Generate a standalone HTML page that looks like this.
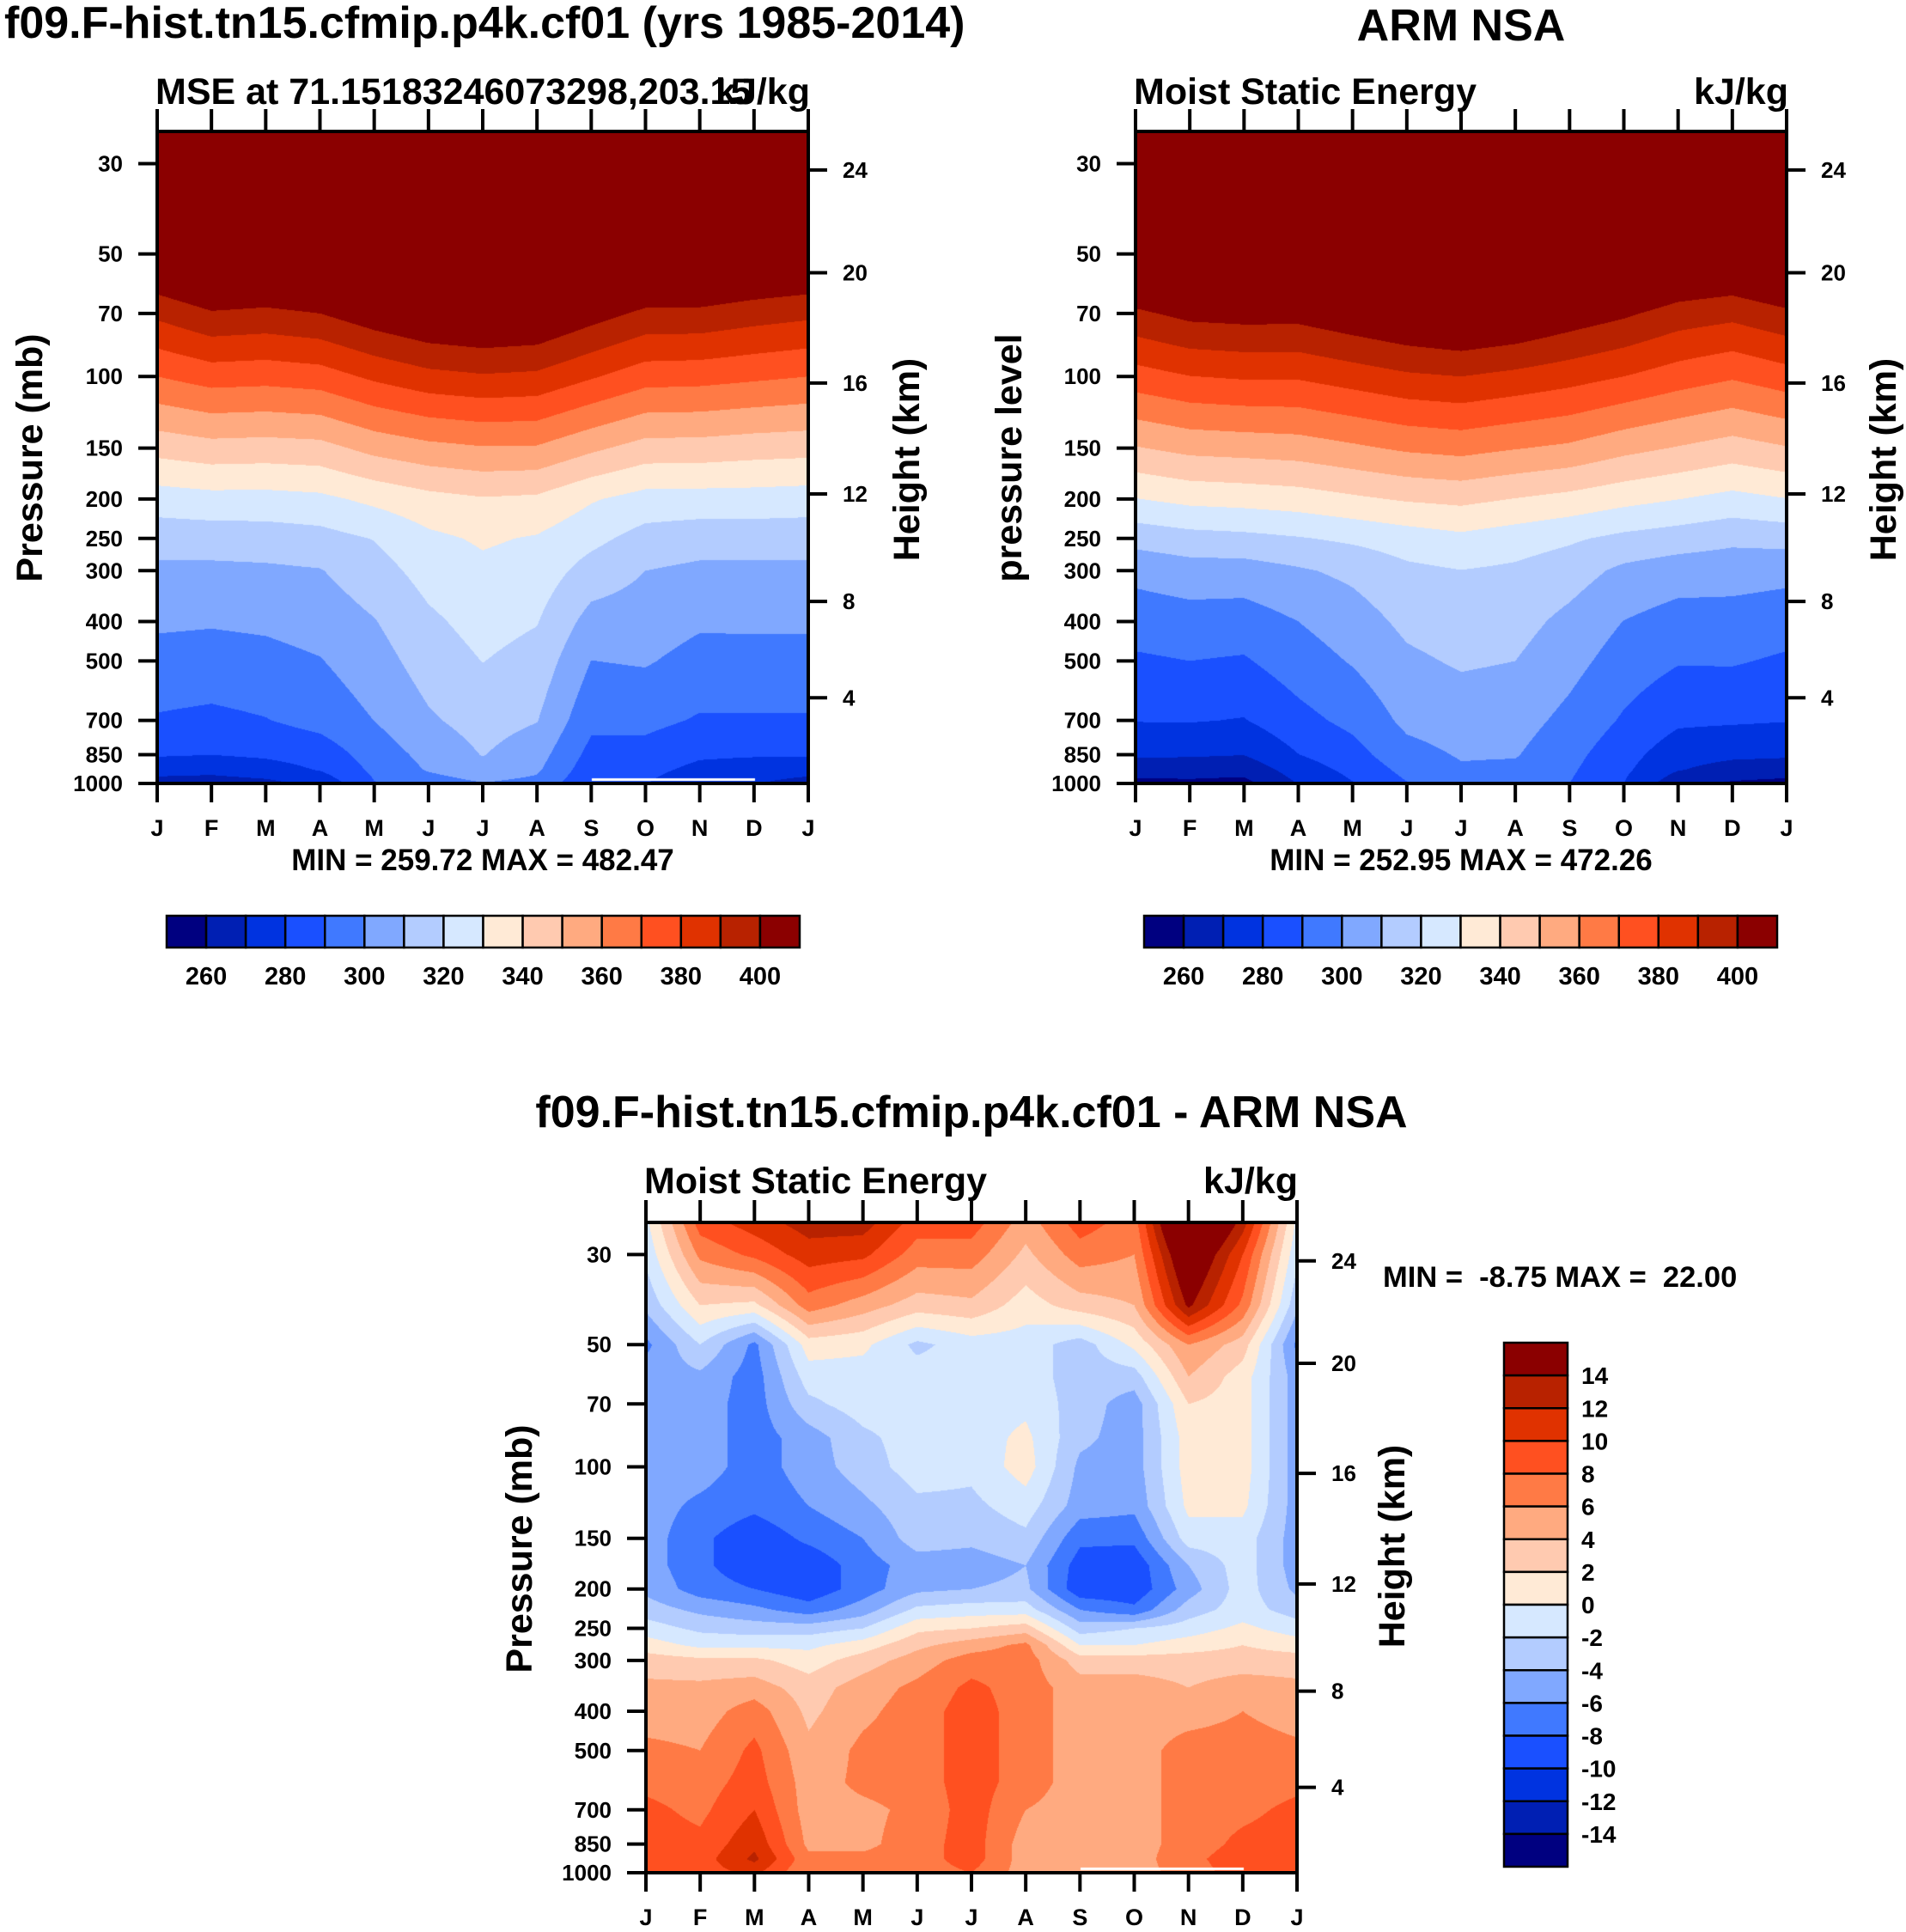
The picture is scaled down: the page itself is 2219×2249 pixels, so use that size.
<!DOCTYPE html>
<html><head><meta charset="utf-8">
<style>
html,body{margin:0;padding:0;background:#fff;}
#root{position:relative;width:2219px;height:2249px;overflow:hidden;background:#fff;}
canvas{position:absolute;}
svg{position:absolute;left:0;top:0;}
text{font-family:"Liberation Sans",Arial,sans-serif;font-weight:bold;fill:#000;}
</style></head>
<body>
<div id="root">
<canvas id="c1"></canvas>
<canvas id="c2"></canvas>
<canvas id="c3"></canvas>
<svg id="svg" width="2219" height="2249">
<text x="5" y="44" font-size="52">f09.F-hist.tn15.cfmip.p4k.cf01 (yrs 1985-2014)</text>
<text x="1701" y="47" font-size="52" text-anchor="middle">ARM NSA</text>
<text x="181" y="121" font-size="43">MSE at 71.15183246073298,203.15</text>
<text x="943" y="121" font-size="43" text-anchor="end">kJ/kg</text>
<text x="1320" y="121" font-size="43">Moist Static Energy</text>
<text x="2082" y="121" font-size="43" text-anchor="end">kJ/kg</text>
<text x="562" y="1013" font-size="35" text-anchor="middle">MIN = 259.72 MAX = 482.47</text>
<text x="1701" y="1013" font-size="35" text-anchor="middle">MIN = 252.95 MAX = 472.26</text>
<text transform="translate(49,533) rotate(-90)" font-size="43" text-anchor="middle">Pressure (mb)</text>
<text transform="translate(1070,535) rotate(-90)" font-size="43" text-anchor="middle">Height (km)</text>
<text transform="translate(1189,533) rotate(-90)" font-size="43" text-anchor="middle">pressure level</text>
<text transform="translate(2207,535) rotate(-90)" font-size="43" text-anchor="middle">Height (km)</text>
<text x="1131" y="1312" font-size="52" text-anchor="middle">f09.F-hist.tn15.cfmip.p4k.cf01 - ARM NSA</text>
<text x="750" y="1389" font-size="43">Moist Static Energy</text>
<text x="1511" y="1389" font-size="43" text-anchor="end">kJ/kg</text>
<text x="1610" y="1498" font-size="34.5" xml:space="preserve">MIN =  -8.75 MAX =  22.00</text>
<text transform="translate(619,1803) rotate(-90)" font-size="43" text-anchor="middle">Pressure (mb)</text>
<text transform="translate(1635,1800) rotate(-90)" font-size="43" text-anchor="middle">Height (km)</text>
</svg>
</div>
<script>
// ---- data ----
const palette = ["#000080","#001fb3","#0033e0","#1a50ff","#4079ff","#80a8ff","#b3ccff","#d6e8ff","#ffead6","#ffcab0","#ffaa80","#ff7a45","#ff5020","#e03200","#b82200","#8b0000"];
const monthLabels = ["J","F","M","A","M","J","J","A","S","O","N","D","J"];
const pressureTicks = [30,50,70,100,150,200,250,300,400,500,700,850,1000];
const heightTicksKm = [24,20,16,12,8,4];
const heightTickPres = [31.1,55.6,103.8,194.4,357,616];
const mseLevelLabels = [260,280,300,320,340,360,380,400];
const diffLevelLabels = [14,12,10,8,6,4,2,0,-2,-4,-6,-8,-10,-12,-14];

const msePressures = [30,50,70,100,150,200,250,300,400,500,700,850,925,1000];
const mseModel = [
[455,416,392.4,370,343.5,325.1,314.1,308,301.5,296.6,289,280.9,274.1,265.7],
[458,422.5,399,374.5,346.3,326.6,314.5,307.9,300.9,295.9,287.7,280.1,273,265.2],
[458,421,397.6,373.7,345.7,326.5,315,308.4,301.8,296.9,289.6,281.6,275.6,267.2],
[458,423,400,375.4,346.6,327.7,316.4,309.5,304,299.5,293.5,284.3,280.7,272.6],
[462,430,406.5,382,353.2,332.4,320.4,315.9,309.5,305.7,300.1,294.3,292,289.5],
[465,435,411.5,387,357.1,336.8,327.8,323.7,318.1,314.5,308.6,303.1,300.9,295.2],
[468,437,413.5,389,359.2,339.2,331.3,327.8,323.6,320.2,314.1,310.4,306.4,299.5],
[467,436,412,387.9,358.9,338.2,329.1,325.7,320.5,316.4,310.4,304.2,301.6,297.2],
[462,428,404.5,381.1,352,331,322.8,315.9,306.2,299.9,292.5,286.8,283.9,281],
[458,421,397.8,374.4,346,326.2,316.1,310,305,300.9,292.8,286.2,283,280.5],
[458,421,397.6,373.8,345.8,325.9,314.3,308,301.4,296.6,289,281.5,277.3,272],
[456,418,394.6,371.9,344.3,325.8,314.3,308,301.6,296.6,289.1,280.9,275.4,270.5],
[455,416,392.4,370,343.5,325.1,314.1,308,301.5,296.6,289,280.9,274.1,265.7]
];
const mseObs = [
[455,421.5,398,375.8,349.3,329.7,313.5,303,294.3,288.6,280.4,271.4,264.8,257],
[458,426.5,403,379.8,352.9,332.8,316.2,305.6,295.8,290,280.6,271.1,264.1,258],
[458,428,404,381.2,353.9,333.8,317.3,305.6,295.2,289,279.5,270.2,263.4,257],
[458,427,403.8,381.2,355,335.3,319.3,308.8,300,295.2,286.8,279.8,274.8,270.5],
[462,432,408,384.8,358.2,338.3,321.8,312.3,305.3,300.8,292.7,286.2,282.7,279.5],
[465,436,412,388.4,361.6,341.1,324.9,317.9,312.3,308.1,302.3,296.7,293,289.5],
[468,438,414.8,390,363.3,342.6,327.6,319.8,315,311.2,304.7,300.8,299,292],
[467,436,412,387.3,360.5,339.7,324.6,318.3,313.6,310,304.1,300.7,298,292],
[462,430,406.5,384,358.1,336.9,321.5,314.5,307.3,303.4,297.2,293.1,291.5,290],
[458,425.5,401.8,380,353,333.2,317.5,307.8,299.8,295.4,288.8,283.8,281.9,280],
[456,418,395.7,375.1,349.3,330.2,315,304.8,295.9,290.7,281.8,274.1,270.6,263.2],
[455,416,393.1,371.2,345.6,326.9,312.3,304.1,296,290.9,281.2,272,266.1,258.6],
[455,421.5,398,375.8,349.3,329.7,313.5,303,294.3,288.6,280.4,271.4,264.8,257]
];
const diffPressures = [25,30,40,50,60,70,85,100,125,150,175,200,225,250,275,300,350,400,500,600,700,850,925,1000];
const mseDiff = [
[-0.5,-1.5,-3.5,-6.5,-5,-5,-5,-5,-5,-5,-5,-4.5,-3,-1,1,3,4.5,5,6.5,7.5,8.5,9,9,9],
[9,6.5,2,-2,-4.5,-5,-5,-5,-6.5,-7.5,-7.5,-7,-4.5,-2.5,-0.5,2.5,4.5,5,6,7,7.5,8.5,9,9],
[11,8.5,1.5,-6.5,-7,-7,-7,-7,-7.5,-9.5,-9.5,-8,-5.5,-3,-0.5,2.5,5,7,8.5,9,10,11.5,12.5,10.5],
[13,11,7,1,-1,-2.5,-5,-5,-6,-7.5,-9.5,-9.5,-7,-3,-0.5,1,3,3.5,4.5,5,5,5.5,6.5,6],
[13,10.5,5,0.5,-1,-1,-2.5,-3,-4.5,-6,-7,-7,-5,-2,1,3,5,5.5,6.5,6.5,5.5,5.5,6.5,8],
[9,7,3,-2.5,-1,-1,-1,-1,-2.5,-3,-5,-4.5,-1.5,1.5,3.5,5,6.5,7,7,7,6.5,7,7,7],
[9,7,3.5,-1,-1,-1,-1,-1.5,-2.5,-3.5,-5,-4,-1,2,5,7,8.5,9,9,9,9,9,9,8],
[5,3.5,1,-1,-1,-0.5,0.5,1,-1,-2.5,-4,-3.5,-1,3,6.5,7,7,7,7,7,6,5,5,5],
[9,7,3,-3,-3,-3,-3.5,-4.5,-5,-7.5,-9,-9.5,-6,-3,0,3,5,5,5,5,5,5,5,4.5],
[7,6,4,0.5,-3,-5,-5,-5,-5.5,-7.5,-9.5,-9.5,-7.5,-2,0,3,5,5,5,5,5,5,5,5],
[22,18,14.5,6,4,2,1,1,0.5,-1,-4,-5,-3,-1,1,3,4,5,7,7,7,7,7.5,7],
[13,10,7.5,3,1,1,1,1,0.5,-1,-1,-1,-1,0.5,2,3,5,6,7,7,7.5,8.5,9,9],
[-0.5,-1.5,-3.5,-6.5,-5,-5,-5,-5,-5,-5,-5,-4.5,-3,-1,1,3,4.5,5,6.5,7.5,8.5,9,9,9]
];

// ---- layout ----
const NS = "http://www.w3.org/2000/svg";
const svg = document.getElementById("svg");
const panels = [
 {id:"c1", name:"model", x:183, y:153, w:758, h:759, pres:msePressures, data:mseModel, lo:260, step:10, gap:[689,879]},
 {id:"c2", name:"obs", x:1322, y:153, w:758, h:759, pres:msePressures, data:mseObs, lo:260, step:10, gap:null},
 {id:"c3", name:"diff", x:752, y:1423, w:758, h:757, pres:diffPressures, data:mseDiff, lo:-14, step:2, gap:[1258,1448]}
];
const LTOP = Math.log10(25), LBOT = Math.log10(1000);
function yScale(p, pn){ return pn.y + (Math.log10(p)-LTOP)/(LBOT-LTOP)*pn.h; }
function xScale(m, pn){ return pn.x + m/12*pn.w; }
function hex(c){ return [parseInt(c.substr(1,2),16),parseInt(c.substr(3,2),16),parseInt(c.substr(5,2),16)]; }
const rgb = palette.map(hex);

function mk(tag, attrs){ const e=document.createElementNS(NS,tag); for(const k in attrs) e.setAttribute(k,attrs[k]); svg.appendChild(e); return e; }

function drawField(pn){
  const cv = document.getElementById(pn.id);
  cv.width = pn.w; cv.height = pn.h;
  cv.style.left = pn.x+"px"; cv.style.top = pn.y+"px";
  const ctx = cv.getContext("2d");
  const img = ctx.createImageData(pn.w, pn.h);
  const lg = pn.pres.map(p=>Math.log10(p));
  const nL = lg.length;
  for(let py=0; py<pn.h; py++){
    const lp = LTOP + (py+0.5)/pn.h*(LBOT-LTOP);
    let k=0; while(k<nL-2 && lp>lg[k+1]) k++;
    let fp=(lp-lg[k])/(lg[k+1]-lg[k]); if(fp<0) fp=0; if(fp>1) fp=1;
    for(let px=0; px<pn.w; px++){
      const m = (px+0.5)/pn.w*12;
      let j=Math.min(Math.floor(m),11); const fm=m-j;
      const a=pn.data[j][k]*(1-fp)+pn.data[j][k+1]*fp;
      const b=pn.data[j+1][k]*(1-fp)+pn.data[j+1][k+1]*fp;
      const v=a*(1-fm)+b*fm;
      let ci=Math.floor((v-pn.lo)/pn.step)+1; if(ci<0) ci=0; if(ci>15) ci=15;
      const c=rgb[ci], o=(py*pn.w+px)*4;
      img.data[o]=c[0]; img.data[o+1]=c[1]; img.data[o+2]=c[2]; img.data[o+3]=255;
    }
  }
  ctx.putImageData(img,0,0);
  if(pn.gap){ ctx.fillStyle="#fff"; ctx.fillRect(pn.gap[0]-pn.x, pn.h-6, pn.gap[1]-pn.gap[0], 3); }
}

function drawAxes(pn){
  const x0=pn.x, y0=pn.y, x1=pn.x+pn.w, y1=pn.y+pn.h;
  const fr = mk("rect",{x:x0,y:y0,width:pn.w,height:pn.h,fill:"none",stroke:"#000","stroke-width":4});
  
  
  monthLabels.forEach((lab,i)=>{
    const x = xScale(i,pn);
    const t1 = mk("line",{x1:x,y1:y1,x2:x,y2:y1+22,stroke:"#000","stroke-width":4});
    
    
    const t2 = mk("line",{x1:x,y1:y0,x2:x,y2:y0-26,stroke:"#000","stroke-width":4});
    
    
    const tx = mk("text",{x:x,y:y1+61,"font-size":27,"text-anchor":"middle"});
    tx.textContent = lab;
    
    
  });
  pressureTicks.forEach(p=>{
    const y = yScale(p,pn);
    const t = mk("line",{x1:x0-22,y1:y,x2:x0,y2:y,stroke:"#000","stroke-width":4});
    
    
    const tx = mk("text",{x:x0-40,y:y+9,"font-size":26,"text-anchor":"end"});
    tx.textContent = p;
    
    
  });
  heightTicksKm.forEach((h,i)=>{
    const y = yScale(heightTickPres[i],pn);
    const t = mk("line",{x1:x1,y1:y,x2:x1+22,y2:y,stroke:"#000","stroke-width":4});
    
    
    const tx = mk("text",{x:x1+40,y:y+9,"font-size":26});
    tx.textContent = h;
    
    
  });
}

function drawHBar(x0, x1, y0, y1, name){
  const bw=(x1-x0)/16;
  for(let i=0;i<16;i++){
    const r = mk("rect",{x:x0+i*bw,y:y0,width:bw,height:y1-y0,fill:palette[i],stroke:"#000","stroke-width":2.5});
    
    
  }
  mseLevelLabels.forEach(v=>{
    const idx=(v-260)/10+1;
    const tx = mk("text",{x:x0+idx*bw,y:y1+43,"font-size":29,"text-anchor":"middle"});
    tx.textContent = v;
    
    
  });
}

function drawVBar(x0, x1, y0, y1){
  const bh=(y1-y0)/16;
  for(let i=0;i<16;i++){
    const r = mk("rect",{x:x0,y:y0+i*bh,width:x1-x0,height:bh,fill:palette[15-i],stroke:"#000","stroke-width":2.5});
    
    
  }
  diffLevelLabels.forEach(v=>{
    const idx=(14-v)/2+1;
    const tx = mk("text",{x:x1+16,y:y0+idx*bh+10,"font-size":28});
    tx.textContent = v;
    
    
  });
}

panels.forEach(pn=>{ drawField(pn); drawAxes(pn); });
drawHBar(194, 931, 1066, 1103, "model");
drawHBar(1332, 2069, 1066, 1103, "obs");
drawVBar(1751, 1825, 1563, 2173);
</script>
</body></html>
